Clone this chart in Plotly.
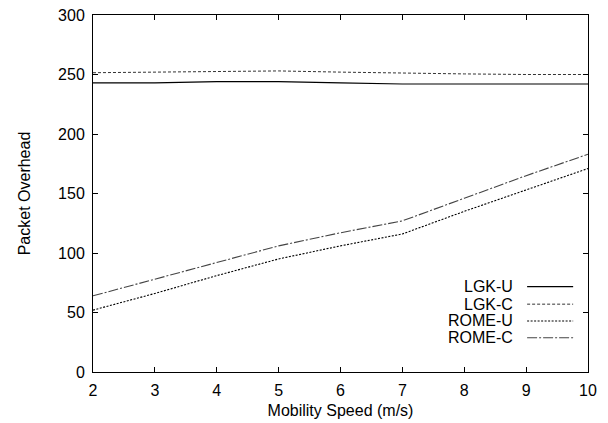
import plotly.graph_objects as go

speed = [2, 3, 4, 5, 6, 7, 8, 9, 10]
lgk_u = [243, 243, 244, 244, 243, 242, 242, 242, 242]
lgk_c = [251.5, 252, 252, 253, 252, 251, 250.5, 250, 250]
rome_u = [52, 66, 81, 95, 106, 116, 135, 153, 171]
rome_c = [64, 78, 92, 106, 117, 127, 146, 165, 183]

series = [
    ("LGK-U", lgk_u, dict(color="black", width=1.2, dash="solid")),
    ("LGK-C", lgk_c, dict(color="#333", width=1, dash="3px,2px")),
    ("ROME-U", rome_u, dict(color="black", width=1.1, dash="2px,1.5px")),
    ("ROME-C", rome_c, dict(color="#444", width=1.1, dash="10px,2px,2px,2px")),
]

FONT = "Liberation Sans, Arial, sans-serif"
FS = 16
fig = go.Figure()
shapes = []
annotations = []
leg_y = [0.239, 0.190, 0.143, 0.096]
for (name, ys, line), ly in zip(series, leg_y):
    fig.add_trace(go.Scatter(x=speed, y=ys, mode="lines", name=name, line=line, showlegend=False))
    annotations.append(dict(x=0.853, y=ly, xref="paper", yref="paper", text=name, showarrow=False,
                            xanchor="right", yanchor="middle", height=15,
                            font=dict(family=FONT, size=FS, color="black")))
    shapes.append(dict(type="line", xref="paper", yref="paper", x0=0.877, x1=0.970, y0=ly, y1=ly,
                       line=line))

axis_common = dict(showline=True, linecolor="black", linewidth=1, mirror="ticks", ticks="inside",
                   ticklen=5, tickcolor="black", showgrid=False, zeroline=False,
                   ticklabelstandoff=4, automargin=False,
                   tickfont=dict(family=FONT, size=FS, color="black"))

fig.update_layout(
    width=608, height=423,
    margin=dict(l=93, r=20, t=15, b=51),
    paper_bgcolor="white", plot_bgcolor="white",
    font=dict(family=FONT, size=FS, color="black"),
    xaxis=dict(range=[2, 10], dtick=1, title=dict(text="Mobility Speed (m/s)", standoff=6,
               font=dict(family=FONT, size=FS)), **axis_common),
    yaxis=dict(range=[0, 300], dtick=50, title=dict(text="Packet Overhead", standoff=23,
               font=dict(family=FONT, size=FS)), **axis_common),
    shapes=shapes,
    annotations=annotations,
)
fig.write_html("out.html", config={"displayModeBar": False},
               post_script="document.body.style.margin='0';document.body.style.padding='0';")
